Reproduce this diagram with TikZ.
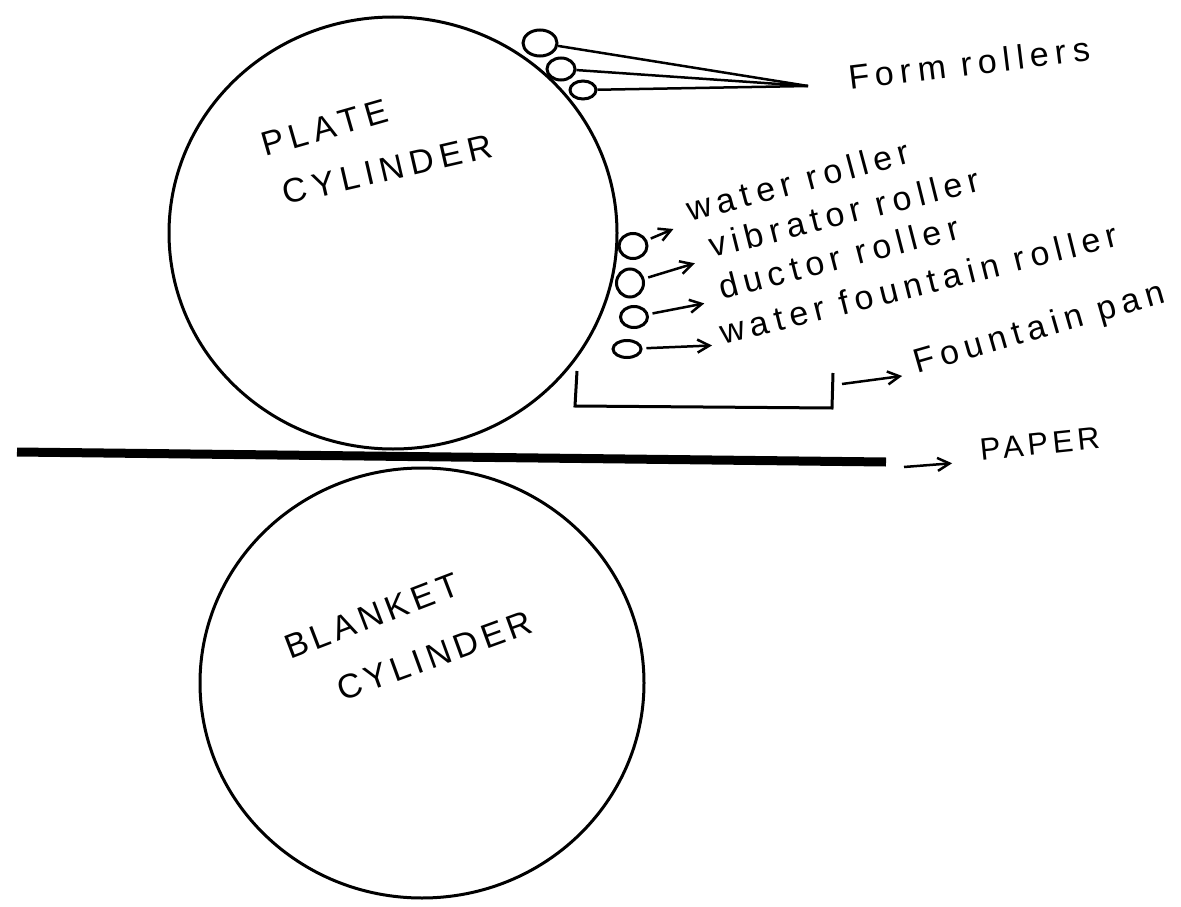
\documentclass[tikz,border=0pt]{standalone}
\usepackage{fontspec}
\setmainfont{Liberation Sans}
\newfontfamily\handfont[LetterSpace=18]{Liberation Sans}
\newfontfamily\capfont[LetterSpace=14]{Liberation Sans}
\usetikzlibrary{arrows.meta,shapes.geometric}
\begin{document}
\begin{tikzpicture}[x=1pt,y=-1pt,>={Straight Barb[length=12pt,width=13pt]},every node/.style={font=\handfont\fontsize{34}{40}\selectfont}]
\tikzset{cyl/.style={draw,ellipse,line width=3pt,inner sep=0pt},roller/.style={draw,ellipse,line width=3pt,inner sep=0pt},lbl/.style={inner sep=0pt,anchor=base west},conn/.style={->,line width=2.5pt,shorten <=4pt,shorten >=18pt}}
\useasboundingbox (0,0) rectangle (1181,907);
\node[cyl,minimum width=448pt,minimum height=432pt] (plate) at (393,233) {};
\node[cyl,minimum width=444pt,minimum height=430pt] (blanket) at (422,683) {};
\node[lbl,rotate=16] (platetxt) at (265,157) {PLATE};
\node[lbl,rotate=13] (platecyl) at (285,205) {CYLINDER};
\node[lbl,rotate=21,font=\capfont\fontsize{34}{40}\selectfont] (blankettxt) at (290,660) {BLANKET};
\node[lbl,rotate=20,font=\capfont\fontsize{34}{40}\selectfont] (blanketcyl) at (342,702) {CYLINDER};
% form rollers
\node[roller,minimum width=34pt,minimum height=26pt] (formA) at (540,43) {};
\node[roller,minimum width=28pt,minimum height=22pt] (formB) at (561,69) {};
\node[roller,minimum width=26pt,minimum height=18pt] (formC) at (583,90) {};
\coordinate (formtip) at (808,86);
\draw[line width=2.5pt] (formA)--(formtip);
\draw[line width=2.5pt] (formB)--(formtip);
\draw[line width=2.5pt] (formC)--(formtip);
\node[lbl,rotate=7] (formtxt) at (850,90) {Form rollers};
% water train
\node[roller,minimum width=28pt,minimum height=25pt] (water) at (633,246) {};
\node[roller,minimum width=27pt,minimum height=28pt] (vibrator) at (630,283) {};
\node[roller,minimum width=27pt,minimum height=21pt] (ductor) at (634,317) {};
\node[roller,minimum width=28pt,minimum height=17pt] (fountain) at (627,349) {};
\node[lbl,rotate=15] (watertxt) at (690,222) {water roller};
\node[lbl,rotate=14] (vibratortxt) at (712,258) {vibrator roller};
\node[lbl,rotate=14.5] (ductortxt) at (722,300) {ductor roller};
\node[lbl,rotate=14] (fountaintxt) at (723,345) {water fountain roller};
\draw[conn] (water)--(watertxt.base west);
\draw[conn] (vibrator)--(vibratortxt.base west);
\draw[conn] (ductor)--(ductortxt.base west);
\draw[conn,shorten >=11pt] (fountain)--(fountaintxt.base west);
% fountain pan and paper
\coordinate (panA) at (577,371);
\coordinate (panB) at (575,406);
\coordinate (panC) at (832,408);
\coordinate (panD) at (833,373);
\draw[line width=3pt] (panA)--(panB)--(panC)--(panD);
\node[lbl,rotate=16] (pantxt) at (917,374) {Fountain pan};
\coordinate (panout) at (842,384);
\draw[conn,shorten <=0pt,shorten >=15pt] (panout)--(pantxt.base west);
\coordinate (paperA) at (17,452);
\coordinate (paperB) at (886,462);
\draw[line width=9pt] (paperA)--(paperB);
\node[lbl,rotate=6,font=\capfont\fontsize{31}{36}\selectfont] (papertxt) at (981,461) {PAPER};
\coordinate (paperout) at (904,467);
\draw[conn,shorten <=0pt,shorten >=29pt] (paperout)--(papertxt.base west);
\end{tikzpicture}
\end{document}
